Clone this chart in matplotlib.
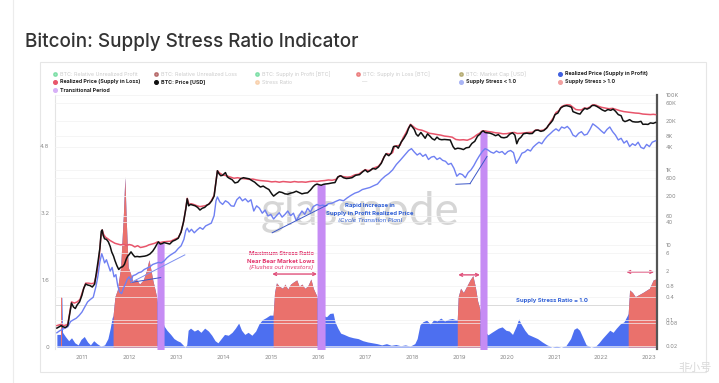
import matplotlib
matplotlib.use('Agg')
import matplotlib.pyplot as plt
import numpy as np
from matplotlib.lines import Line2D
from matplotlib.patches import Rectangle

# ---------------- data ----------------
years = [2011, 2012, 2013, 2014, 2015, 2016, 2017, 2018, 2019, 2020, 2021, 2022, 2023]

stress_t = [2010.47, 2010.55, 2010.56, 2010.575, 2010.59, 2010.65, 2010.72, 2010.78, 2010.85, 2010.92, 2010.98,
            2011.05, 2011.12, 2011.18, 2011.25, 2011.32, 2011.40, 2011.48, 2011.55, 2011.60, 2011.64, 2011.66,
            2011.70, 2011.75, 2011.82, 2011.88, 2011.91, 2011.94, 2011.98, 2012.03, 2012.08, 2012.15, 2012.22,
            2012.30, 2012.36, 2012.42, 2012.46, 2012.50, 2012.55, 2012.59, 2012.62, 2012.68, 2012.74, 2012.80,
            2012.88, 2012.95, 2013.02, 2013.08, 2013.14, 2013.18, 2013.22, 2013.25, 2013.30, 2013.38, 2013.45,
            2013.52, 2013.60, 2013.68, 2013.75, 2013.82, 2013.88, 2013.95, 2014.02, 2014.10, 2014.18, 2014.25,
            2014.32, 2014.38, 2014.45, 2014.52, 2014.60, 2014.68, 2014.75, 2014.82, 2014.90, 2014.98, 2015.05,
            2015.08, 2015.12, 2015.18, 2015.25, 2015.30, 2015.36, 2015.42, 2015.48, 2015.55, 2015.60, 2015.66,
            2015.72, 2015.78, 2015.85, 2015.90, 2015.98, 2016.05, 2016.12, 2016.18, 2016.25, 2016.32, 2016.36,
            2016.42, 2016.48, 2016.55, 2016.65, 2016.75, 2016.85, 2016.95, 2017.05, 2017.15, 2017.25, 2017.35,
            2017.45, 2017.55, 2017.65, 2017.75, 2017.85, 2017.95, 2018.05, 2018.10, 2018.16, 2018.22, 2018.30,
            2018.38, 2018.45, 2018.52, 2018.60, 2018.68, 2018.76, 2018.84, 2018.92, 2018.95, 2018.97, 2019.02,
            2019.08, 2019.15, 2019.22, 2019.28, 2019.33, 2019.38, 2019.43, 2019.48, 2019.55, 2019.60, 2019.68,
            2019.75, 2019.82, 2019.90, 2019.98, 2020.05, 2020.12, 2020.20, 2020.25, 2020.30, 2020.38, 2020.45,
            2020.55, 2020.65, 2020.75, 2020.85, 2020.95, 2021.05, 2021.15, 2021.25, 2021.35, 2021.42, 2021.48,
            2021.54, 2021.60, 2021.68, 2021.78, 2021.88, 2021.95, 2022.02, 2022.10, 2022.18, 2022.25, 2022.32,
            2022.40, 2022.48, 2022.55, 2022.57, 2022.60, 2022.66, 2022.72, 2022.80, 2022.88, 2022.95, 2023.02,
            2023.10, 2023.15]
stress_v = [0.30, 0.30, 1.19, 1.19, 0.35, 0.25, 0.15, 0.22, 0.10, 0.05, 0.18,
            0.25, 0.12, 0.05, 0.15, 0.08, 0.02, 0.05, 0.20, 0.45, 0.70, 0.75,
            1.20, 1.36, 1.90, 3.20, 4.06, 3.00, 1.90, 1.75, 1.55, 1.62, 1.50,
            1.60, 1.80, 2.08, 1.85, 1.60, 1.36, 1.15, 0.95, 0.70, 0.50, 0.40,
            0.30, 0.20, 0.15, 0.12, 0.05, 0.00, 0.05, 0.40, 0.45, 0.38, 0.42,
            0.35, 0.45, 0.38, 0.28, 0.15, 0.10, 0.20, 0.30, 0.28, 0.35, 0.45,
            0.57, 0.40, 0.30, 0.35, 0.28, 0.38, 0.55, 0.65, 0.70, 0.76, 0.76,
            1.30, 1.53, 1.45, 1.40, 1.50, 1.38, 1.50, 1.55, 1.60, 1.45, 1.50,
            1.40, 1.45, 1.62, 1.40, 1.20, 0.90, 0.75, 0.72, 0.80, 0.81, 0.60,
            0.45, 0.33, 0.30, 0.25, 0.22, 0.20, 0.15, 0.12, 0.10, 0.08, 0.05,
            0.08, 0.04, 0.06, 0.03, 0.05, 0.02, 0.08, 0.20, 0.53, 0.60, 0.64,
            0.55, 0.65, 0.62, 0.69, 0.62, 0.66, 0.68, 0.65, 0.66, 1.20, 1.40,
            1.30, 1.45, 1.60, 1.70, 1.45, 1.10, 0.90, 0.60, 0.35, 0.29, 0.35,
            0.40, 0.45, 0.48, 0.40, 0.38, 0.30, 0.50, 0.67, 0.55, 0.40, 0.30,
            0.25, 0.20, 0.12, 0.05, 0.00, 0.02, 0.00, 0.03, 0.20, 0.42, 0.46,
            0.40, 0.25, 0.05, 0.00, 0.02, 0.10, 0.20, 0.30, 0.40, 0.35, 0.45,
            0.55, 0.60, 0.75, 0.80, 1.36, 1.30, 1.20, 1.25, 1.30, 1.35, 1.40,
            1.60, 1.62]

stress_high_periods = [(2010.56, 2010.575), (2011.66, 2012.59), (2015.05, 2015.98),
                       (2018.95, 2019.43), (2022.57, 2023.15)]
transition_periods = [(2012.59, 2012.74), (2015.98, 2016.15), (2019.43, 2019.58)]

price_t = [2010.47, 2010.52, 2010.56, 2010.60, 2010.65, 2010.70, 2010.74, 2010.78, 2010.82, 2010.86, 2010.90,
           2010.95, 2011.00, 2011.04, 2011.08, 2011.12, 2011.17, 2011.22, 2011.27, 2011.30, 2011.34, 2011.38,
           2011.41, 2011.43, 2011.45, 2011.48, 2011.52, 2011.56, 2011.60, 2011.63, 2011.67, 2011.70, 2011.74,
           2011.78, 2011.82, 2011.86, 2011.90, 2011.94, 2011.97, 2012.00, 2012.04, 2012.08, 2012.12, 2012.17,
           2012.22, 2012.28, 2012.33, 2012.38, 2012.44, 2012.50, 2012.55, 2012.59, 2012.62, 2012.66, 2012.70,
           2012.74, 2012.80, 2012.86, 2012.92, 2012.98, 2013.04, 2013.10, 2013.15, 2013.20, 2013.23, 2013.26,
           2013.30, 2013.35, 2013.40, 2013.45, 2013.50, 2013.55, 2013.60, 2013.65, 2013.70, 2013.75, 2013.80,
           2013.84, 2013.87, 2013.90, 2013.94, 2013.98, 2014.04, 2014.08, 2014.12, 2014.18, 2014.24, 2014.30,
           2014.36, 2014.42, 2014.48, 2014.54, 2014.60, 2014.66, 2014.72, 2014.78, 2014.84, 2014.90, 2014.96,
           2015.02, 2015.06, 2015.12, 2015.18, 2015.24, 2015.30, 2015.36, 2015.42, 2015.48, 2015.54, 2015.60,
           2015.66, 2015.72, 2015.78, 2015.84, 2015.90, 2015.94, 2015.98, 2016.03, 2016.07, 2016.11, 2016.15,
           2016.22, 2016.30, 2016.36, 2016.42, 2016.48, 2016.54, 2016.60, 2016.66, 2016.72, 2016.80, 2016.88,
           2016.95, 2017.00, 2017.05, 2017.10, 2017.16, 2017.22, 2017.28, 2017.34, 2017.40, 2017.44, 2017.50,
           2017.55, 2017.60, 2017.66, 2017.70, 2017.76, 2017.82, 2017.88, 2017.92, 2017.96, 2018.00, 2018.04,
           2018.08, 2018.12, 2018.18, 2018.22, 2018.27, 2018.32, 2018.37, 2018.42, 2018.47, 2018.52, 2018.57,
           2018.62, 2018.68, 2018.74, 2018.80, 2018.86, 2018.90, 2018.96, 2019.02, 2019.08, 2019.14, 2019.20,
           2019.26, 2019.32, 2019.38, 2019.43, 2019.47, 2019.50, 2019.54, 2019.58, 2019.64, 2019.70, 2019.76,
           2019.82, 2019.88, 2019.94, 2020.00, 2020.06, 2020.12, 2020.17, 2020.21, 2020.25, 2020.30, 2020.35,
           2020.42, 2020.48, 2020.54, 2020.60, 2020.66, 2020.72, 2020.78, 2020.84, 2020.88, 2020.92, 2020.97,
           2021.02, 2021.08, 2021.14, 2021.20, 2021.26, 2021.32, 2021.37, 2021.40, 2021.45, 2021.50, 2021.55,
           2021.60, 2021.65, 2021.70, 2021.76, 2021.80, 2021.85, 2021.90, 2021.96, 2022.02, 2022.08, 2022.14,
           2022.20, 2022.25, 2022.30, 2022.36, 2022.42, 2022.46, 2022.50, 2022.55, 2022.60, 2022.66, 2022.72,
           2022.78, 2022.84, 2022.88, 2022.94, 2022.99, 2023.04, 2023.10, 2023.15]
price_v = [0.06, 0.065, 0.07, 0.065, 0.062, 0.07, 0.14, 0.28, 0.22, 0.20, 0.25,
           0.30, 0.45, 0.70, 0.90, 0.85, 0.82, 0.75, 0.90, 1.6, 3.5, 8.0,
           23, 25, 18, 14.5, 14, 12, 9, 6.5, 5, 3.8, 2.8,
           2.2, 2.5, 2.6, 3.0, 4.2, 5.0, 5.5, 6.5, 5.5, 4.8, 4.9,
           4.8, 4.9, 5.0, 5.2, 5.7, 6.8, 8.5, 10.5, 12, 10.5, 10.8,
           11.5, 11.0, 10.5, 12.5, 13.5, 15, 22, 40, 90, 170, 110,
           120, 115, 110, 100, 85, 95, 100, 115, 125, 150, 200,
           500, 950, 800, 700, 720, 850, 650, 600, 550, 450, 470,
           580, 620, 600, 580, 520, 470, 400, 350, 370, 330, 300,
           230, 200, 230, 260, 250, 230, 225, 240, 250, 270, 250,
           230, 240, 245, 290, 360, 400, 420, 400, 390, 410, 420,
           430, 450, 460, 650, 700, 620, 590, 600, 620, 720, 750,
           900, 1000, 880, 950, 1100, 1050, 1200, 1500, 2200, 2700, 2400,
           2800, 4200, 4300, 3800, 5500, 7000, 9500, 13000, 16000, 14000, 12000,
           9000, 8000, 10000, 8500, 7000, 9200, 8000, 6800, 6300, 7500, 6600,
           6400, 6500, 6400, 6300, 4200, 3600, 3800, 3700, 3500, 3900, 4000,
           5100, 5800, 8000, 9000, 10500, 11000, 10000, 9800, 9600, 9000, 8200,
           8800, 7400, 7200, 7500, 9000, 9800, 8500, 5000, 6600, 7500, 9200,
           9600, 9300, 9400, 11300, 11600, 10700, 11200, 13000, 15500, 17500, 21000,
           30000, 33000, 45000, 50000, 52000, 50000, 47000, 36000, 34000, 32000, 31000,
           38000, 44000, 42000, 46000, 52000, 53000, 50000, 45000, 40000, 37000, 41000,
           39000, 42000, 37000, 30000, 28000, 21000, 19500, 20500, 22000, 19500, 19000,
           19000, 19800, 16500, 16600, 16400, 18000, 17500, 18500]

rp_loss_t = [2010.47, 2010.55, 2010.62, 2010.70, 2010.78, 2010.84, 2010.90, 2010.96, 2011.02, 2011.08, 2011.14,
             2011.20, 2011.26, 2011.32, 2011.36, 2011.40, 2011.43, 2011.46, 2011.50, 2011.55, 2011.60, 2011.65,
             2011.70, 2011.76, 2011.82, 2011.88, 2011.94, 2012.00, 2012.06, 2012.12, 2012.18, 2012.24, 2012.30,
             2012.36, 2012.42, 2012.48, 2012.54, 2012.60, 2012.66, 2012.72, 2012.80, 2012.88, 2012.96, 2013.04,
             2013.10, 2013.16, 2013.20, 2013.23, 2013.27, 2013.32, 2013.38, 2013.44, 2013.50, 2013.56, 2013.62,
             2013.68, 2013.74, 2013.80, 2013.84, 2013.87, 2013.92, 2013.98, 2014.06, 2014.14, 2014.22, 2014.30,
             2014.38, 2014.46, 2014.54, 2014.62, 2014.70, 2014.78, 2014.86, 2014.94, 2015.02, 2015.10, 2015.18,
             2015.26, 2015.34, 2015.42, 2015.50, 2015.58, 2015.66, 2015.74, 2015.82, 2015.90, 2015.98, 2016.06,
             2016.14, 2016.22, 2016.30, 2016.38, 2016.46, 2016.54, 2016.62, 2016.70, 2016.78, 2016.86, 2016.94,
             2017.00, 2017.06, 2017.12, 2017.20, 2017.28, 2017.34, 2017.40, 2017.46, 2017.52, 2017.58, 2017.62,
             2017.68, 2017.74, 2017.80, 2017.86, 2017.92, 2017.96, 2018.00, 2018.06, 2018.12, 2018.20, 2018.28,
             2018.36, 2018.44, 2018.52, 2018.60, 2018.68, 2018.76, 2018.84, 2018.92, 2019.00, 2019.08, 2019.16,
             2019.24, 2019.30, 2019.36, 2019.42, 2019.48, 2019.54, 2019.60, 2019.68, 2019.76, 2019.84, 2019.92,
             2020.00, 2020.08, 2020.16, 2020.22, 2020.30, 2020.38, 2020.46, 2020.54, 2020.62, 2020.70, 2020.78,
             2020.86, 2020.92, 2020.98, 2021.04, 2021.10, 2021.16, 2021.22, 2021.28, 2021.34, 2021.40, 2021.46,
             2021.52, 2021.58, 2021.64, 2021.70, 2021.76, 2021.82, 2021.88, 2021.94, 2022.00, 2022.08, 2022.16,
             2022.24, 2022.32, 2022.40, 2022.48, 2022.56, 2022.64, 2022.72, 2022.80, 2022.88, 2022.96, 2023.04,
             2023.10, 2023.15]
rp_loss_v = [0.07, 0.075, 0.07, 0.075, 0.30, 0.28, 0.30, 0.35, 0.60, 0.95, 0.95,
             0.92, 0.95, 1.8, 4.0, 15, 25, 19, 16, 14.5, 13, 12,
             11, 10.5, 10, 10.3, 9.6, 10.2, 9.8, 8.8, 9.5, 8.5, 8.8,
             9.2, 10, 10.5, 11, 12, 11.5, 12, 12.3, 12.5, 14, 15.5,
             22, 45, 95, 175, 120, 125, 118, 110, 105, 108, 112,
             120, 150, 210, 500, 950, 820, 740, 700, 650, 600, 620,
             590, 580, 560, 570, 540, 520, 510, 500, 480, 490, 470,
             490, 480, 470, 490, 475, 480, 470, 490, 500, 490, 510,
             520, 540, 530, 560, 700, 660, 640, 660, 740, 770, 900,
             1020, 960, 1000, 1150, 1250, 1550, 2250, 2750, 2600, 2900, 4300,
             4400, 4600, 7100, 9600, 13500, 16500, 15000, 13000, 12000, 11500, 10500,
             9500, 9200, 8800, 8500, 8000, 7800, 7500, 6500, 6300, 6400, 6200,
             6800, 7500, 8600, 9500, 11000, 11000, 10600, 10300, 9800, 9600, 9200,
             9300, 9800, 10000, 9400, 9500, 9800, 10000, 10100, 11800, 11200, 11600,
             13800, 18800, 24000, 34000, 38000, 49000, 53000, 55000, 54000, 47000, 41000,
             40000, 40000, 45000, 44000, 48000, 55000, 54000, 50000, 47000, 45000, 43000,
             44000, 41000, 38000, 36000, 35000, 34000, 33000, 32500, 31000, 30500, 30000,
             30500, 30000]

rp_profit_t = [2010.47, 2010.52, 2010.58, 2010.64, 2010.70, 2010.76, 2010.82, 2010.88, 2010.94, 2011.00, 2011.06,
               2011.12, 2011.18, 2011.24, 2011.30, 2011.34, 2011.38, 2011.42, 2011.45, 2011.48, 2011.52, 2011.56,
               2011.60, 2011.64, 2011.68, 2011.72, 2011.76, 2011.80, 2011.84, 2011.88, 2011.92, 2011.96, 2012.00,
               2012.04, 2012.08, 2012.14, 2012.20, 2012.26, 2012.32, 2012.38, 2012.44, 2012.50, 2012.56, 2012.62,
               2012.68, 2012.74, 2012.80, 2012.86, 2012.92, 2012.98, 2013.04, 2013.10, 2013.16, 2013.20, 2013.23,
               2013.27, 2013.32, 2013.38, 2013.44, 2013.50, 2013.56, 2013.62, 2013.68, 2013.74, 2013.80, 2013.84,
               2013.87, 2013.92, 2013.98, 2014.04, 2014.10, 2014.16, 2014.22, 2014.28, 2014.34, 2014.40, 2014.46,
               2014.52, 2014.58, 2014.64, 2014.70, 2014.76, 2014.82, 2014.88, 2014.94, 2015.00, 2015.06, 2015.12,
               2015.18, 2015.24, 2015.30, 2015.36, 2015.42, 2015.48, 2015.54, 2015.60, 2015.66, 2015.72, 2015.78,
               2015.84, 2015.90, 2015.98, 2016.04, 2016.10, 2016.16, 2016.22, 2016.30, 2016.38, 2016.46, 2016.54,
               2016.62, 2016.70, 2016.78, 2016.86, 2016.94, 2017.02, 2017.10, 2017.18, 2017.26, 2017.34, 2017.42,
               2017.50, 2017.58, 2017.66, 2017.74, 2017.80, 2017.86, 2017.92, 2017.98, 2018.04, 2018.10, 2018.16,
               2018.22, 2018.28, 2018.34, 2018.40, 2018.46, 2018.52, 2018.58, 2018.64, 2018.70, 2018.76, 2018.82,
               2018.88, 2018.94, 2019.00, 2019.06, 2019.12, 2019.18, 2019.24, 2019.30, 2019.36, 2019.42, 2019.48,
               2019.54, 2019.60, 2019.66, 2019.72, 2019.78, 2019.84, 2019.90, 2019.96, 2020.02, 2020.08, 2020.14,
               2020.20, 2020.26, 2020.32, 2020.38, 2020.44, 2020.50, 2020.56, 2020.62, 2020.68, 2020.74, 2020.80,
               2020.86, 2020.92, 2020.98, 2021.04, 2021.10, 2021.16, 2021.22, 2021.28, 2021.34, 2021.40, 2021.46,
               2021.52, 2021.58, 2021.64, 2021.70, 2021.76, 2021.82, 2021.88, 2021.94, 2022.00, 2022.06, 2022.12,
               2022.18, 2022.24, 2022.30, 2022.36, 2022.42, 2022.48, 2022.54, 2022.60, 2022.66, 2022.72, 2022.78,
               2022.84, 2022.90, 2022.96, 2023.02, 2023.08, 2023.15]
rp_profit_v = [0.045, 0.05, 0.055, 0.06, 0.065, 0.09, 0.10, 0.11, 0.13, 0.16, 0.22,
               0.30, 0.35, 0.40, 0.80, 1.5, 3.5, 5.8, 4.5, 3.3, 4.0, 2.8,
               2.0, 2.5, 1.4, 1.6, 0.8, 0.55, 0.50, 0.70, 0.90, 1.2, 1.4,
               1.1, 1.5, 1.6, 1.8, 1.9, 2.2, 2.4, 2.6, 3.0, 3.2, 3.4,
               3.3, 3.7, 4.5, 5.2, 5.8, 6.5, 8.0, 9.4, 14, 24, 28,
               22, 26, 21, 25, 29, 26, 32, 35, 38, 60, 150,
               190, 140, 120, 150, 135, 110, 107, 160, 190, 150, 170,
               140, 160, 80, 110, 95, 70, 85, 59, 65, 49, 60,
               72, 55, 65, 80, 60, 70, 44, 60, 80, 65, 95,
               75, 105, 120, 110, 115, 108, 125, 130, 145, 160, 150,
               180, 210, 240, 260, 300, 320, 340, 380, 420, 550, 680,
               800, 1000, 1400, 1800, 2200, 2700, 3300, 3700, 3000, 2500, 2800,
               2300, 2600, 1900, 2200, 2300, 1900, 2100, 1800, 1700, 1400, 1500,
               1100, 680, 800, 750, 620, 850, 1000, 1300, 1800, 2400, 3100,
               3700, 3400, 3000, 2800, 3200, 2900, 3100, 2600, 3100, 3300, 2900,
               1500, 2000, 2800, 3000, 3500, 3200, 4100, 4800, 5500, 5000, 6500,
               8000, 9300, 11000, 12500, 11000, 14000, 13000, 14500, 12000, 8500, 7700,
               9500, 10500, 8500, 9000, 12000, 17000, 15000, 13000, 11000, 9500, 12000,
               14000, 10500, 8500, 6300, 7000, 5200, 6000, 4200, 5000, 4500, 5500,
               4000, 3700, 4800, 4200, 5500, 6000]

right_ticks = [100000, 60000, 20000, 8000, 4000, 1000, 600, 200, 60, 40, 10, 6, 2, 0.8, 0.4, 0.1, 0.08, 0.02]
right_labels = ['100K', '60K', '20K', '8K', '4K', '1K', '600', '200', '60', '40', '10', '6', '2', '0.8',
                '0.4', '0.1', '0.08', '0.02']
left_ticks = [0, 1.6, 3.2, 4.8]

# ---------------- style ----------------
W, H = 719, 383
def fx(px): return px / W
def fy(py): return 1 - py / H

C_BLUE_FILL = '#4d6ff0'
C_RED_FILL = '#ea716c'
C_PURPLE = '#c68cf4'
C_RED_LINE = '#e8556b'
C_BLUE_LINE = '#6f80f2'
C_BLACK = '#111111'
C_PINK = '#e2336b'
C_ANN_BLUE = '#2f5fd6'
FONT = ['Inter', 'DejaVu Sans']

plt.rcParams['font.family'] = FONT

fig = plt.figure(figsize=(W / 100, H / 100), dpi=100)
fig.patch.set_facecolor('white')

# card borders
fig.add_artist(Line2D([fx(13), fx(13)], [0, 1], color='#ececec', lw=0.8))
fig.add_artist(Rectangle((fx(40), fy(372)), fx(706) - fx(40), fy(62) - fy(372), fill=False,
                         edgecolor='#e6e6e6', lw=0.8, transform=fig.transFigure))

fig.text(fx(25), fy(42), 'Bitcoin: Supply Stress Ratio Indicator', fontsize=13.6, color='#333333',
         va='center', ha='left', fontweight='medium')

ax1 = fig.add_axes([fx(55), fy(349), fx(657) - fx(55), fy(95) - fy(349)])
ax2 = ax1.twinx()
ax1.set_zorder(1)
ax2.set_zorder(2)
ax1.patch.set_visible(False)
ax2.patch.set_visible(False)

st = np.array(stress_t)
sv = np.array(stress_v)
ax1.fill_between(st, 0, sv, color=C_BLUE_FILL, lw=0, zorder=2)
for a, b in stress_high_periods:
    m = (st >= a) & (st <= b)
    ax1.fill_between(st[m], 0, sv[m], color=C_RED_FILL, lw=0, zorder=3)
ax1.axhline(1.0, color='#d5d5d5', lw=0.6, zorder=1)

ax1.set_xlim(2010.43, 2023.18)
ax1.set_ylim(-0.048, 6.01)
ax1.set_yticks(left_ticks)
ax1.set_yticklabels(['0', '1.6', '3.2', '4.8'])
ax1.set_xticks(years)
ax1.set_xticklabels([str(y) for y in years])
ax1.tick_params(axis='both', length=0, labelsize=4.3, labelcolor='#8a8a8a')
ax1.tick_params(axis='x', pad=4)
ax1.tick_params(axis='y', pad=4)
for s in ['top', 'bottom', 'right']:
    ax1.spines[s].set_visible(False)
ax1.spines['left'].set_color('#e4e4e4')
ax1.spines['left'].set_linewidth(0.8)

# watermarks
ax1.text(fx(360), fy(212), 'glassnode', transform=fig.transFigure, fontsize=33, color='#d6d6d6',
         ha='center', va='center', family=['Lato', 'DejaVu Sans'], zorder=0)
fig.text(fx(712), fy(368), '非小号', fontsize=8, color='#d9d9d9', ha='right', va='center',
         family=['Noto Sans CJK SC', 'DejaVu Sans'])

pt = np.array(price_t)
pv = np.array(price_v)
ax2.set_yscale('log')
ax2.set_ylim(0.0166, 88500)
ax2.set_xlim(2010.43, 2023.18)
for a, b in transition_periods:
    m = (pt >= a) & (pt <= b)
    ax2.fill_between(pt[m], 0.001, pv[m], color=C_PURPLE, lw=0, zorder=1)
ax2.plot(rp_loss_t, rp_loss_v, color=C_RED_LINE, lw=1.1, zorder=3)
ax2.plot(price_t, price_v, color=C_BLACK, lw=1.1, zorder=4)
ax2.plot(rp_profit_t, rp_profit_v, color=C_BLUE_LINE, lw=1.0, zorder=3)

ax2.set_yticks(right_ticks)
ax2.set_yticklabels(right_labels)
ax2.yaxis.set_minor_locator(matplotlib.ticker.NullLocator())
ax2.tick_params(axis='y', length=0, labelsize=4.0, labelcolor='#8a8a8a', pad=6)
for yv in right_ticks:
    ax2.axhline(yv, color='#f2f2f2', lw=0.5, zorder=0)
for s in ['top', 'bottom', 'left']:
    ax2.spines[s].set_visible(False)
ax2.spines['right'].set_color('#555555')
ax2.spines['right'].set_linewidth(1.6)

# trend lines (price axis)
ax2.plot([2012.04, 2012.67], [0.99, 1.34], color='#3c57c8', lw=0.7, zorder=5)
ax2.plot([2012.04, 2013.18], [0.99, 5.4], color='#7d8ff0', lw=0.7, zorder=5)
ax2.plot([2015.03, 2016.19], [21, 115], color='#3c57c8', lw=0.7, zorder=5)
ax2.plot([2018.92, 2019.22], [414, 430], color='#3c57c8', lw=0.7, zorder=5)
ax2.plot([2019.22, 2019.58], [430, 2290], color='#3c57c8', lw=0.7, zorder=5)

# annotations (stress axis)
ann = dict(ha='center', va='center', zorder=6)
ax1.text(2015.22, 2.22, 'Maximum Stress Ratio', fontsize=4.3, color=C_PINK, fontweight='bold', **ann)
ax1.text(2015.22, 2.05, 'Near Bear Market Lows', fontsize=4.3, color=C_PINK, fontweight='bold', **ann)
ax1.text(2015.22, 1.89, '(Flushes out investors)', fontsize=4.3, color=C_PINK, style='italic', **ann)
ax1.text(2017.1, 3.37, 'Rapid Increase in', fontsize=4.3, color=C_ANN_BLUE, fontweight='bold', **ann)
ax1.text(2017.1, 3.18, 'Supply in Profit Realized Price', fontsize=4.3, color=C_ANN_BLUE, fontweight='bold', **ann)
ax1.text(2017.1, 3.01, '(Cycle Transition Plan)', fontsize=4.3, color=C_ANN_BLUE, style='italic', **ann)
ax1.text(2020.96, 1.1, 'Supply Stress Ratio = 1.0', fontsize=4.3, color=C_ANN_BLUE, fontweight='bold', **ann)

arrow_spans = [(2015.03, 2015.98, 1.74), (2018.97, 2019.43, 1.72), (2022.53, 2023.12, 1.79)]
for a, b, yv in arrow_spans:
    ax1.annotate('', xy=(a, yv), xytext=(b, yv),
                 arrowprops=dict(arrowstyle='<->', color='#e0507a', lw=1.0, shrinkA=0, shrinkB=0,
                                 mutation_scale=5), zorder=6)

# legend
legend_items = [
    (55, 74, '#2ecc71', 'BTC: Relative Unrealized Profit', False),
    (156, 74, '#8b1010', 'BTC: Relative Unrealized Loss', False),
    (257, 74, '#2ecc71', 'BTC: Supply in Profit [BTC]', False),
    (358, 74, '#e03030', 'BTC: Supply in Loss [BTC]', False),
    (461, 74, '#8a7a20', 'BTC: Market Cap [USD]', False),
    (560, 74, '#3f5fe0', 'Realized Price (Supply in Profit)', True),
    (55, 82, '#e8556b', 'Realized Price (Supply in Loss)', True),
    (156, 82, '#111111', 'BTC: Price [USD]', True),
    (257, 82, '#f5b57a', 'Stress Ratio', False),
    (461, 82, '#a9b4f5', 'Supply Stress < 1.0', True),
    (560, 82, '#f2a0a0', 'Supply Stress > 1.0', True),
    (55, 90, '#d7b0f7', 'Transitional Period', True),
]
for x, y, c, label, active in legend_items:
    fig.add_artist(Line2D([fx(x)], [fy(y)], marker='o', markersize=2.6, color=c, lw=0,
                          alpha=1.0 if active else 0.45, transform=fig.transFigure))
    fig.text(fx(x + 5), fy(y), label, fontsize=3.85, va='center', ha='left',
             color='#222222' if active else '#cccccc', fontweight='bold' if active else 'normal')
fig.text(fx(362), fy(82), '—', fontsize=3.85, va='center', ha='left', color='#cccccc')

fig.savefig('out.png', dpi=100, facecolor='white')
